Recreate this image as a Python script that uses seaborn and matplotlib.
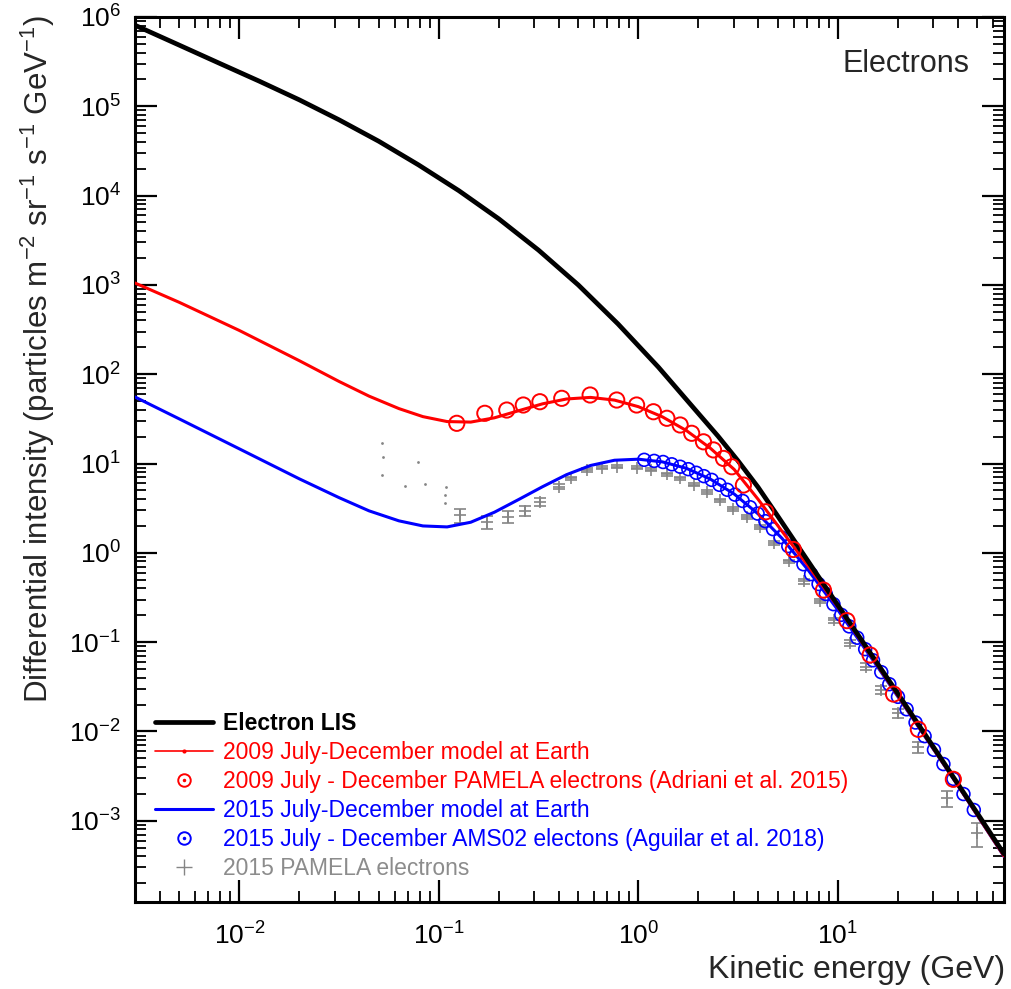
import matplotlib
matplotlib.use('Agg')
import matplotlib.pyplot as plt
import seaborn as sns
import numpy as np
from matplotlib.lines import Line2D
from matplotlib.legend_handler import HandlerTuple
from matplotlib.ticker import LogLocator, NullFormatter

# Electron LIS
lis_e = [0.003, 0.005, 0.0079, 0.0126, 0.02, 0.0316, 0.05, 0.079, 0.126, 0.2, 0.316, 0.5,
         0.79, 1.26, 2.0, 2.51, 3.16, 3.98, 5.0, 7.9, 12.6, 20.0, 31.6, 50.0, 68.0]
lis_j = [8.09e5, 4.84e5, 3.05e5, 1.91e5, 1.18e5, 7.06e4, 4.06e4, 2.21e4, 1.135e4, 5.48e3, 2.45e3, 998,
         366, 120, 36.3, 20.2, 10.7, 5.43, 2.57, 0.562, 0.121, 0.0264, 5.69e-3, 1.21e-3, 4.25e-4]

# 2009 July-December model at Earth
red_e = [0.003, 0.005, 0.01, 0.02, 0.0316, 0.0447, 0.0631, 0.0832, 0.11, 0.1445, 0.19, 0.251,
         0.331, 0.4365, 0.575, 0.759, 1.0, 1.32, 1.74, 2.29, 3.02, 3.98, 5.25, 7.08, 10.0, 15.85,
         25.1, 39.8, 68.0]
red_j = [1050, 638, 309, 141.6, 83.0, 56.8, 41.2, 33.5, 29.5, 29.1, 32.5, 39.0,
         46.6, 52.8, 55.0, 51.3, 43.3, 33.3, 23.4, 14.9, 8.59, 3.98, 1.74, 0.72, 0.248, 0.0543,
         0.01178, 0.00252, 4.02e-4]

# 2009 PAMELA electrons
pam09_e = [0.123, 0.170, 0.219, 0.265, 0.321, 0.413, 0.573, 0.779, 0.98, 1.19, 1.39, 1.62, 1.85,
           2.12, 2.38, 2.67, 2.94, 3.36, 4.35, 5.98, 8.46, 11.1, 14.5, 19.0, 25.3, 37.9]
pam09_j = [28.2, 36.5, 39.7, 45.2, 49.2, 53.7, 58.5, 51.4, 45.2, 38.0, 32.1, 27.0, 21.8,
           17.5, 14.2, 11.4, 9.2, 5.74, 2.88, 1.09, 0.383, 0.174, 0.0718, 0.0262, 0.01055, 0.00291]

# 2015 July-December model at Earth
blue_e = [0.003, 0.005, 0.01, 0.02, 0.0316, 0.0447, 0.0631, 0.0832, 0.11, 0.1445, 0.19, 0.251,
          0.331, 0.4365, 0.575, 0.759, 1.0, 1.32, 1.74, 2.29, 3.02, 3.98, 5.25, 7.08, 10.0, 15.85,
          25.1, 39.8, 68.0]
blue_j = [55.6, 31.6, 14.6, 6.73, 4.15, 2.95, 2.28, 2.0, 1.95, 2.2, 2.85, 3.95,
          5.5, 7.5, 9.5, 10.88, 11.18, 10.43, 8.84, 6.71, 4.56, 2.73, 1.45, 0.645, 0.229, 0.0524,
          0.01158, 0.0025, 3.99e-4]

# 2015 AMS02 electrons
ams_e = [1.07, 1.20, 1.33, 1.47, 1.62, 1.78, 1.95, 2.13, 2.33, 2.55, 2.79, 3.05, 3.33, 3.63, 3.96,
         4.33, 4.73, 5.16, 5.64, 6.16, 6.72, 7.34, 8.00, 8.70, 9.50, 10.4, 11.4, 12.5, 13.7, 15.0,
         16.5, 18.1, 20.0, 22.1, 24.5, 27.2, 30.3, 33.8, 37.9, 42.6, 48.0]
ams_j = [11.0, 10.7, 10.4, 9.8, 9.2, 8.64, 7.88, 7.22, 6.56, 5.77, 5.08, 4.48, 3.81, 3.24, 2.75,
         2.26, 1.84, 1.50, 1.19, 0.936, 0.744, 0.577, 0.447, 0.346, 0.266, 0.202, 0.150, 0.112,
         0.0834, 0.0626, 0.0461, 0.0338, 0.0244, 0.0177, 0.01258, 0.00885, 0.00622, 0.00431,
         0.00294, 0.00199, 0.00132]

# 2015 PAMELA electrons (relative errors)
pam15_e = [0.128, 0.174, 0.222, 0.27, 0.32, 0.40, 0.46, 0.55, 0.66, 0.78, 0.98, 1.16, 1.39, 1.62,
           1.89, 2.2, 2.57, 2.99, 3.5, 4.07, 4.8, 5.7, 6.8, 8.1, 9.6, 11.5, 13.8, 16.5, 19.9, 25.3,
           35.2, 49.7]
pam15_j = [2.65, 2.23, 2.54, 2.96, 3.73, 5.5, 6.8, 8.5, 9.0, 9.2, 8.95, 8.5, 7.6, 6.8,
           5.8, 4.8, 3.9, 3.1, 2.5, 1.95, 1.3, 0.8, 0.48, 0.29, 0.175, 0.098, 0.053, 0.029, 0.016,
           0.0067, 0.00178, 0.00073]
pam15_rel = [0.18, 0.17, 0.15, 0.12, 0.10, 0.06, 0.05, 0.05, 0.04, 0.04, 0.04, 0.04, 0.04, 0.04,
             0.04, 0.04, 0.04, 0.04, 0.05, 0.05, 0.05, 0.05, 0.06, 0.06, 0.07, 0.08, 0.09, 0.10, 0.12,
             0.15, 0.20, 0.30]

# low energy PAMELA points (tiny dots)
dot_e = [0.0517, 0.0527, 0.0517, 0.0676, 0.0789, 0.0852, 0.109, 0.107, 0.107]
dot_j = [16.8, 11.9, 7.4, 5.6, 10.5, 5.9, 5.5, 4.4, 3.6]

labels = ['Electron LIS',
          '2009 July-December model at Earth',
          '2009 July - December PAMELA electrons (Adriani et al. 2015)',
          '2015 July-December model at Earth',
          '2015 July - December AMS02 electons (Aguilar et al. 2018)',
          '2015 PAMELA electrons']

RED = '#ff0000'
BLUE = '#0000ff'
GRAY = '#858585'

sns.set_style('ticks')
plt.rcParams['font.family'] = ['Liberation Sans', 'DejaVu Sans']
plt.rcParams['mathtext.fontset'] = 'custom'
plt.rcParams['mathtext.rm'] = 'Liberation Sans'
plt.rcParams['mathtext.it'] = 'Liberation Sans:italic'
plt.rcParams['mathtext.bf'] = 'Liberation Sans:bold'
plt.rcParams['mathtext.default'] = 'regular'

fig = plt.figure(figsize=(10.12, 9.89), dpi=100)
ax = fig.add_axes([135 / 1012, 87 / 989, 869 / 1012, 885 / 989])
ax.set_xscale('log')
ax.set_yscale('log')

# data points
err = np.array(pam15_j) * np.array(pam15_rel)
ax.errorbar(pam15_e, pam15_j, yerr=err, fmt='+', color=GRAY, ms=9, mew=1.2,
            elinewidth=1.2, capsize=4, capthick=1.2, zorder=2)
sns.scatterplot(x=dot_e, y=dot_j, color=GRAY, s=4, linewidth=0, ax=ax, zorder=2)
sns.scatterplot(x=ams_e, y=ams_j, marker='o', facecolors='none', edgecolor=BLUE,
                linewidth=1.2, s=85, ax=ax, zorder=3)

# model curves
sns.lineplot(x=blue_e, y=blue_j, color=BLUE, lw=2.2, ax=ax, zorder=4)
sns.lineplot(x=red_e, y=red_j, color=RED, lw=2.2, ax=ax, zorder=4)
sns.lineplot(x=lis_e, y=lis_j, color='black', lw=3.4, ax=ax, zorder=5)

sns.scatterplot(x=pam09_e, y=pam09_j, marker='o', facecolors='none', edgecolor=RED,
                linewidth=1.4, s=120, ax=ax, zorder=6)

ax.set_xlim(3.0e-3, 68)
ax.set_ylim(1.23e-4, 1e6)

ax.xaxis.set_major_locator(LogLocator(base=10, numticks=20))
ax.yaxis.set_major_locator(LogLocator(base=10, numticks=20))
ax.xaxis.set_minor_locator(LogLocator(base=10, subs=np.arange(2, 10), numticks=100))
ax.yaxis.set_minor_locator(LogLocator(base=10, subs=np.arange(2, 10), numticks=100))
ax.xaxis.set_minor_formatter(NullFormatter())
ax.yaxis.set_minor_formatter(NullFormatter())

ax.tick_params(which='both', direction='in', top=True, right=True, colors='black')
ax.tick_params(which='major', length=16, width=1.6, labelsize=19)
ax.tick_params(axis='x', which='major', pad=15)
ax.tick_params(axis='y', which='major', pad=10)
ax.tick_params(which='minor', length=8, width=1.3)
for sp in ax.spines.values():
    sp.set_linewidth(2.2)
    sp.set_color('black')
ax.xaxis.label.set_visible(False)
ax.yaxis.label.set_visible(False)

fig.text(38 / 1012, 1 - 359 / 989,
         'Differential intensity (particles m$^{-2}$ sr$^{-1}$ s$^{-1}$ GeV$^{-1}$)',
         rotation=90, ha='center', va='center', fontsize=22.5)
fig.text(1005 / 1012, 1 - 970 / 989, 'Kinetic energy (GeV)', ha='right', va='center',
         fontsize=23)
fig.text(970 / 1012, 1 - 64 / 989, 'Electrons', ha='right', va='center', fontsize=22)

# legend
h_lis = Line2D([], [], color='black', lw=3.4)
h_red = Line2D([], [], color=RED, lw=1.2, marker='.', ms=4)
h_red_pts = (Line2D([], [], color=RED, ls='', marker='o', mfc='none', ms=9, mew=1.4),
             Line2D([], [], color=RED, ls='', marker='.', ms=3))
h_blue = Line2D([], [], color=BLUE, lw=2.2)
h_blue_pts = (Line2D([], [], color=BLUE, ls='', marker='o', mfc='none', ms=9, mew=1.4),
              Line2D([], [], color=BLUE, ls='', marker='.', ms=3))
h_gray = Line2D([], [], color=GRAY, ls='', marker='+', ms=12, mew=1.0)

leg = ax.legend([h_lis, h_red, h_red_pts, h_blue, h_blue_pts, h_gray], labels,
                handler_map={tuple: HandlerTuple(ndivide=1)},
                loc='lower left', bbox_to_anchor=(0.023, 0.025), frameon=False,
                fontsize=16.5, handlelength=2.55, handletextpad=0.4, labelspacing=0.26,
                borderpad=0, borderaxespad=0, numpoints=1)
for txt, c in zip(leg.get_texts(), ['black', RED, RED, BLUE, BLUE, '#8c8c8c']):
    txt.set_color(c)
leg.get_texts()[0].set_fontweight('bold')

fig.savefig('out.png', dpi=100)
